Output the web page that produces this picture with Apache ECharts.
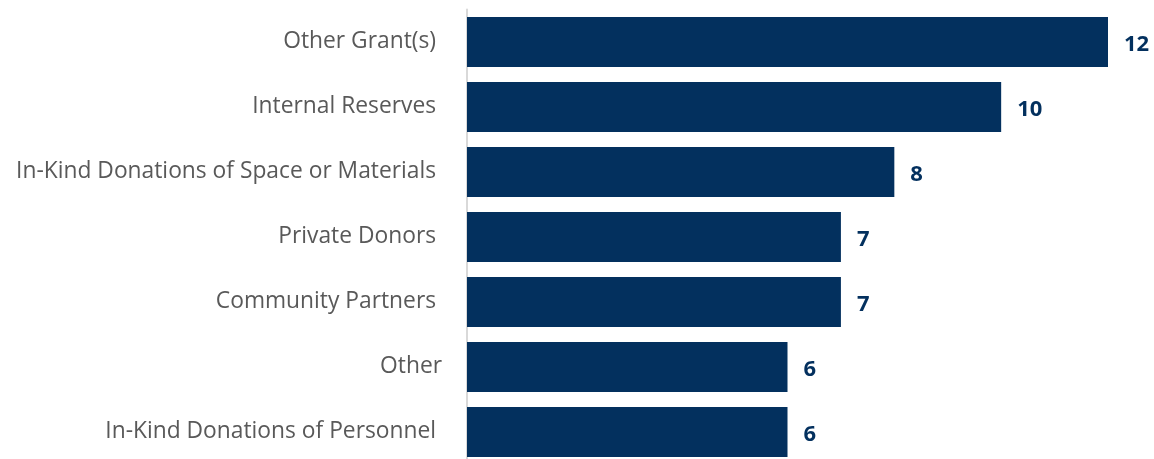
<!DOCTYPE html>
<html>
<head>
<meta charset="utf-8">
<script src="https://cdn.jsdelivr.net/npm/echarts@6/dist/echarts.min.js"></script>
<style>
  html, body { margin: 0; padding: 0; background: #fff; }
  #chart { width: 1154px; height: 459px; }
</style>
</head>
<body>
<div id="chart"></div>
<script>
// Funding sources, listed top to bottom
const categories = [
  'Other Grant(s) ',
  'Internal Reserves ',
  'In-Kind Donations of Space or Materials ',
  'Private Donors ',
  'Community Partners ',
  'Other',
  'In-Kind Donations of Personnel '
];
const counts = [12, 10, 8, 7, 7, 6, 6];

const chart = echarts.init(document.getElementById('chart'));
chart.setOption({
  animation: false,
  grid: { left: 467, top: 9.5, width: 641, height: 455, outerBoundsMode: 'none' },
  xAxis: {
    type: 'value',
    min: 0,
    max: 12,
    show: false
  },
  yAxis: {
    type: 'category',
    inverse: true,
    data: categories,
    axisLine: { show: true, lineStyle: { color: '#d9d9d9', width: 2 } },
    axisTick: { show: false },
    axisLabel: {
      margin: 25,
      color: '#595959',
      fontFamily: 'Open Sans',
      fontSize: 22.8
    }
  },
  series: [{
    type: 'bar',
    data: counts,
    barWidth: 50,
    itemStyle: { color: '#03305e' },
    label: {
      show: true,
      position: 'right',
      distance: 16,
      offset: [0, 3],
      color: '#03305e',
      fontFamily: 'Open Sans',
      fontWeight: 'bold',
      fontSize: 22
    }
  }]
});
</script>
</body>
</html>
